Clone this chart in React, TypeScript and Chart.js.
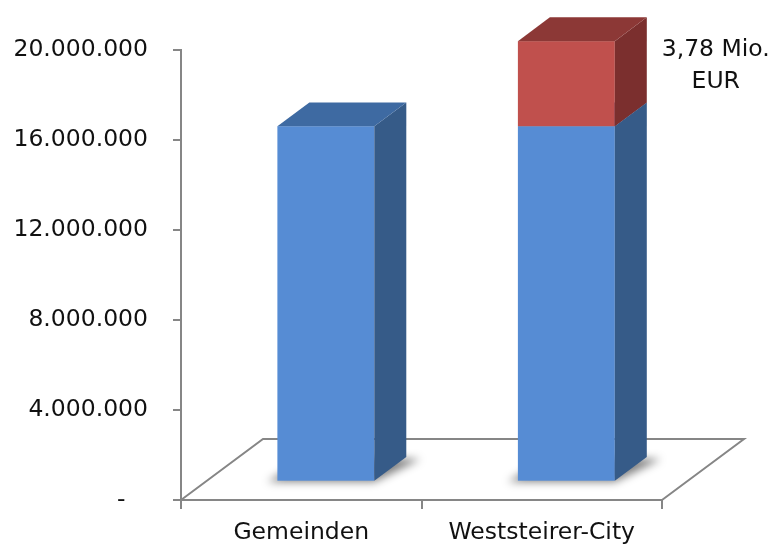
import React, { useEffect, useRef } from "react";
import { Chart, registerables } from "chart.js";

Chart.register(...registerables);

const categories: string[] = ["Gemeinden", "Weststeirer-City"];
const baseValues: number[] = [15800000, 15800000];
const extraValues: (number | null)[] = [null, 3780000];
const extraLabel: string[] = ["3,78 Mio.", "EUR"];
const yMin = 0;
const yMax = 20000000;
const yStep = 4000000;

const FONT = "DejaVu Sans";
const GRAY = "#868686";
const DX = 82;
const DY = -61;
const FRONT = 0.3;
const DEPTH = 0.39;

const faceColors = [
  { front: "#568cd4", side: "#365b88", top: "#3e6aa2" },
  { front: "#c0504d", side: "#7b2f2e", top: "#8c3836" },
];

function fmt(v: number): string {
  if (v === 0) return "-   ";
  return String(Math.round(v)).replace(/\B(?=(\d{3})+(?!\d))/g, ".");
}

const threeD = {
  id: "threeD",
  beforeDatasetDraw() {
    return false;
  },
  afterDatasetsDraw(chart: any) {
    const ctx: CanvasRenderingContext2D = chart.ctx;
    const { left, right, bottom } = chart.chartArea;
    ctx.save();
    // floor
    ctx.strokeStyle = GRAY;
    ctx.lineWidth = 2;
    ctx.beginPath();
    ctx.moveTo(left, bottom);
    ctx.lineTo(left + DX, bottom + DY);
    ctx.lineTo(right + DX, bottom + DY);
    ctx.lineTo(right, bottom);
    ctx.stroke();

    const fx = FRONT * DX, fy = FRONT * DY;
    const bx = DEPTH * DX, by = DEPTH * DY;
    const n = categories.length;
    // shadows
    const meta0 = chart.getDatasetMeta(0);
    for (let i = 0; i < n; i++) {
      const el = meta0.data[i];
      if (!el) continue;
      const p = el.getProps(["x", "y", "base", "width"], true);
      const x0 = p.x - p.width / 2 + fx;
      const x1 = x0 + p.width;
      const yb = p.base + fy;
      ctx.save();
      ctx.filter = "blur(4px)";
      ctx.fillStyle = "rgba(0,0,0,0.5)";
      ctx.beginPath();
      ctx.moveTo(x0 - 10, yb + 1);
      ctx.lineTo(x1, yb + 1);
      ctx.lineTo(x1 + bx + 14, yb + by + 2);
      ctx.lineTo(x0 + bx, yb + by);
      ctx.closePath();
      ctx.fill();
      ctx.restore();
    }
    // bars
    for (let i = 0; i < n; i++) {
      for (let d = 0; d < chart.data.datasets.length; d++) {
        const meta = chart.getDatasetMeta(d);
        const el = meta.data[i];
        const raw = chart.data.datasets[d].data[i];
        if (!el || raw == null || raw === 0) continue;
        const p = el.getProps(["x", "y", "base", "width"], true);
        const c = faceColors[d];
        const x0 = p.x - p.width / 2 + fx;
        const x1 = x0 + p.width;
        const yt = Math.min(p.y, p.base) + fy;
        const yb = Math.max(p.y, p.base) + fy;
        ctx.fillStyle = c.front;
        ctx.fillRect(x0, yt, x1 - x0, yb - yt);
        ctx.fillStyle = c.side;
        ctx.beginPath();
        ctx.moveTo(x1, yb);
        ctx.lineTo(x1 + bx, yb + by);
        ctx.lineTo(x1 + bx, yt + by);
        ctx.lineTo(x1, yt);
        ctx.closePath();
        ctx.fill();
        ctx.fillStyle = c.top;
        ctx.beginPath();
        ctx.moveTo(x0, yt);
        ctx.lineTo(x1, yt);
        ctx.lineTo(x1 + bx, yt + by);
        ctx.lineTo(x0 + bx, yt + by);
        ctx.closePath();
        ctx.fill();
      }
    }
    // data label for extra segment
    const meta1 = chart.getDatasetMeta(1);
    for (let i = 0; i < n; i++) {
      const raw = extraValues[i];
      const el = meta1.data[i];
      if (raw == null || !el) continue;
      const p = el.getProps(["x", "y"], true);
      ctx.fillStyle = "#111";
      ctx.font = `23.5px "${FONT}"`;
      ctx.textAlign = "center";
      ctx.textBaseline = "middle";
      const cx = p.x + 174;
      ctx.fillText(extraLabel[0], cx, p.y - 10);
      ctx.fillText(extraLabel[1], cx, p.y + 22);
    }
    ctx.restore();
  },
};

export default function App() {
  const ref = useRef<HTMLCanvasElement | null>(null);
  useEffect(() => {
    if (!ref.current) return;
    const font = { family: FONT, size: 23.5 };
    const chart = new Chart(ref.current, {
      type: "bar",
      data: {
        labels: categories,
        datasets: [
          { label: "Basis", data: baseValues, backgroundColor: faceColors[0].front, barPercentage: 0.403, categoryPercentage: 1 },
          { label: "Zusatz", data: extraValues, backgroundColor: faceColors[1].front, barPercentage: 0.403, categoryPercentage: 1 },
        ],
      },
      options: {
        responsive: false,
        animation: false,
        layout: { padding: { top: 50, right: 114, bottom: 0, left: 0 } },
        plugins: { legend: { display: false }, tooltip: { enabled: false } },
        scales: {
          x: {
            stacked: true,
            offset: true,
            grid: { offset: true, drawOnChartArea: false, drawTicks: true, tickLength: 9, color: GRAY, lineWidth: 2 },
            border: { display: true, color: GRAY, width: 2 },
            ticks: { font, color: "#111", padding: 10, maxRotation: 0 },
            afterFit: (s: any) => { s.height = 46; },
          },
          y: {
            stacked: true,
            min: yMin,
            max: yMax,
            grid: { drawOnChartArea: false, drawTicks: true, tickLength: 8, color: GRAY, lineWidth: 2 },
            border: { display: true, color: GRAY, width: 2 },
            ticks: { stepSize: yStep, font, color: "#111", padding: 25, callback: (v: any) => fmt(Number(v)) },
            afterFit: (s: any) => { s.width = 181; },
          },
        },
      },
      plugins: [threeD],
    } as any);
    return () => chart.destroy();
  }, []);
  return (
    <div style={{ position: "absolute", left: 0, top: 0, width: 776, height: 546, background: "#fff" }}>
      <canvas ref={ref} width={776} height={546} />
    </div>
  );
}
